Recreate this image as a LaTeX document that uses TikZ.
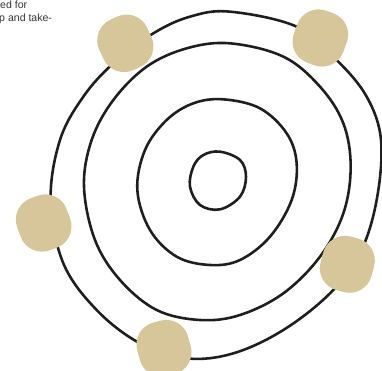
\documentclass[tikz,border=0pt]{standalone}
\usepackage{fontspec}
\setmainfont{Liberation Sans}
\definecolor{blobtan}{HTML}{D7C69A}
\definecolor{ringgray}{HTML}{1E1E1E}
\definecolor{txtgray}{HTML}{333333}
\tikzset{
  ring/.style={draw=ringgray, line width=2.2pt},
  blob/.style={fill=blobtan, draw=none, rectangle, rounded corners=0.68cm,
               minimum width=1.58cm, minimum height=1.66cm, inner sep=0pt},
  lbl/.style={font=\fontsize{9pt}{11pt}\selectfont, text=txtgray, anchor=base west, inner sep=0pt}
}
\begin{document}
\begin{tikzpicture}[x=0.01cm, y=-0.01cm]
\useasboundingbox (0,0) rectangle (1146,1113);
\clip (0,0) rectangle (1146,1113);
% rings
\draw[ring] plot[smooth cycle, tension=0.6] coordinates {
 (690,35) (890,80) (1010,180) (1100,290) (1143,420) (1130,600) (1080,760)
 (990,880) (850,990) (700,1060) (560,1075) (420,1030) (290,930) (190,790)
 (152,600) (180,420) (250,290) (340,190) (460,100) (570,50)};
\draw[ring] plot[smooth cycle, tension=0.6] coordinates {
 (690,130) (850,170) (960,260) (1030,370) (1052,500) (1030,640) (960,770)
 (850,880) (720,945) (600,960) (470,930) (360,840) (285,720) (252,560)
 (275,420) (340,300) (440,200) (560,145)};
\draw[ring] plot[smooth cycle, tension=0.6] coordinates {
 (670,298) (780,325) (860,400) (890,490) (875,600) (810,710) (720,780)
 (630,795) (530,770) (450,690) (412,570) (435,450) (500,360) (580,310)};
\draw[ring] plot[smooth cycle, tension=0.6] coordinates {
 (660,455) (720,480) (738,530) (720,590) (660,628) (600,615) (570,560)
 (580,500) (610,465)};
% blobs
\node[blob, rotate=25] (b1) at (376,130) {};
\node[blob, rotate=-20] (b2) at (961,114) {};
\node[blob, rotate=20] (b3) at (131,669) {};
\node[blob, rotate=-15] (b4) at (1042,793) {};
\node[blob, rotate=15] (b5) at (492,1045) {};
% text
\node[lbl] (t1) at (0,27) {ed for};
\node[lbl] (t2) at (-3,66) {p and take-};
\end{tikzpicture}
\end{document}
